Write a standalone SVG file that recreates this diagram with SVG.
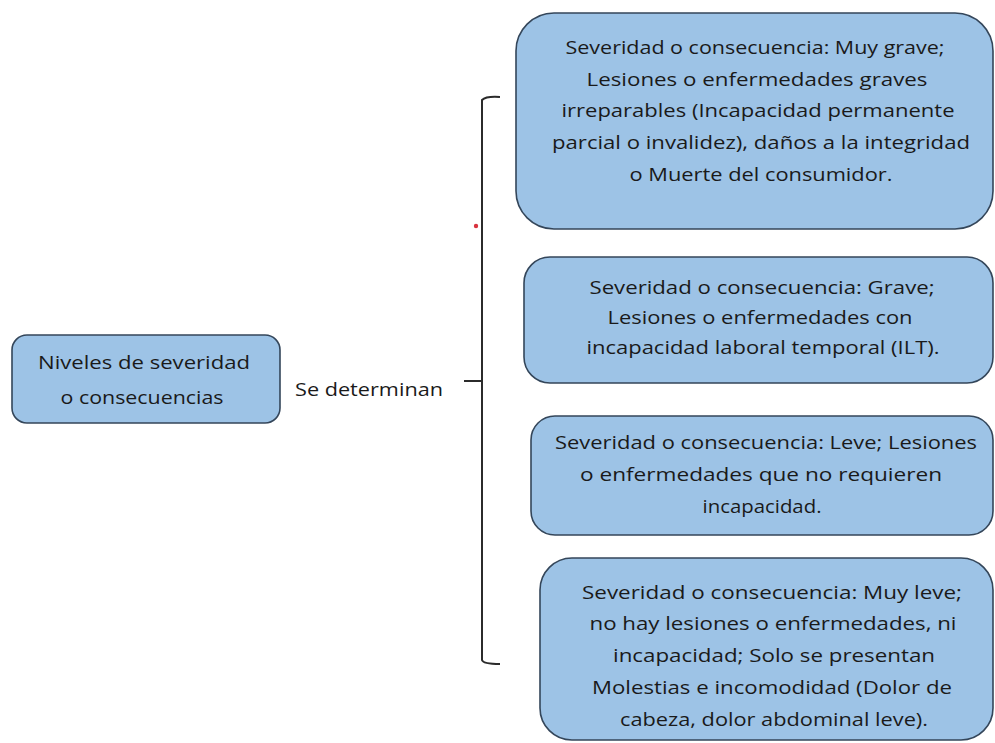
<svg xmlns="http://www.w3.org/2000/svg" width="995" height="743" viewBox="0 0 995 743">
<style>
.box{fill:#9dc3e6;stroke:#34465a;stroke-width:1.6}
.t{font-family:"Open Sans","Liberation Sans",sans-serif;font-size:18.5px;fill:#1a1a1a;text-anchor:middle}
.conn{fill:none;stroke:#2b2b2b;stroke-width:2}
</style>
<rect width="995" height="743" fill="#ffffff"/>
<g id="connectors">
<path class="conn" d="M500,97 Q486,96 482,100 L482,660 Q483,664 500,664"/>
<path class="conn" d="M464,381 L482,381"/>
<circle cx="476" cy="226" r="2.2" fill="#d9333f"/>
</g>
<g id="root">
<rect class="box" x="12" y="335" width="268" height="88" rx="15"/>
<text class="t" x="144" y="369" textLength="212" lengthAdjust="spacingAndGlyphs">Niveles de severidad</text>
<text class="t" x="142" y="404" textLength="163" lengthAdjust="spacingAndGlyphs">o consecuencias</text>
</g>
<g id="label">
<text class="t" x="369" y="396" textLength="148" lengthAdjust="spacingAndGlyphs">Se determinan</text>
</g>
<g id="n1">
<rect class="box" x="516" y="13" width="477" height="216" rx="38"/>
<text class="t" x="755" y="54" textLength="379" lengthAdjust="spacingAndGlyphs">Severidad o consecuencia: Muy grave;</text>
<text class="t" x="757" y="86" textLength="341" lengthAdjust="spacingAndGlyphs">Lesiones o enfermedades graves</text>
<text class="t" x="758" y="117" textLength="393" lengthAdjust="spacingAndGlyphs">irreparables (Incapacidad permanente</text>
<text class="t" x="761" y="149" textLength="418" lengthAdjust="spacingAndGlyphs">parcial o invalidez), daños a la integridad</text>
<text class="t" x="761" y="181" textLength="263" lengthAdjust="spacingAndGlyphs">o Muerte del consumidor.</text>
</g>
<g id="n2">
<rect class="box" x="524" y="257" width="469" height="126" rx="26"/>
<text class="t" x="762" y="294" textLength="345" lengthAdjust="spacingAndGlyphs">Severidad o consecuencia: Grave;</text>
<text class="t" x="760" y="324" textLength="305" lengthAdjust="spacingAndGlyphs">Lesiones o enfermedades con</text>
<text class="t" x="763" y="354" textLength="353" lengthAdjust="spacingAndGlyphs">incapacidad laboral temporal (ILT).</text>
</g>
<g id="n3">
<rect class="box" x="531" y="416" width="462" height="119" rx="24"/>
<text class="t" x="766" y="449" textLength="422" lengthAdjust="spacingAndGlyphs">Severidad o consecuencia: Leve; Lesiones</text>
<text class="t" x="761" y="481" textLength="362" lengthAdjust="spacingAndGlyphs">o enfermedades que no requieren</text>
<text class="t" x="762" y="513" textLength="119" lengthAdjust="spacingAndGlyphs">incapacidad.</text>
</g>
<g id="n4">
<rect class="box" x="540" y="558" width="453" height="182" rx="32"/>
<text class="t" x="772" y="599" textLength="380" lengthAdjust="spacingAndGlyphs">Severidad o consecuencia: Muy leve;</text>
<text class="t" x="773" y="630" textLength="367" lengthAdjust="spacingAndGlyphs">no hay lesiones o enfermedades, ni</text>
<text class="t" x="774" y="662" textLength="322" lengthAdjust="spacingAndGlyphs">incapacidad; Solo se presentan</text>
<text class="t" x="772" y="694" textLength="360" lengthAdjust="spacingAndGlyphs">Molestias e incomodidad (Dolor de</text>
<text class="t" x="774" y="726" textLength="308" lengthAdjust="spacingAndGlyphs">cabeza, dolor abdominal leve).</text>
</g>
</svg>
